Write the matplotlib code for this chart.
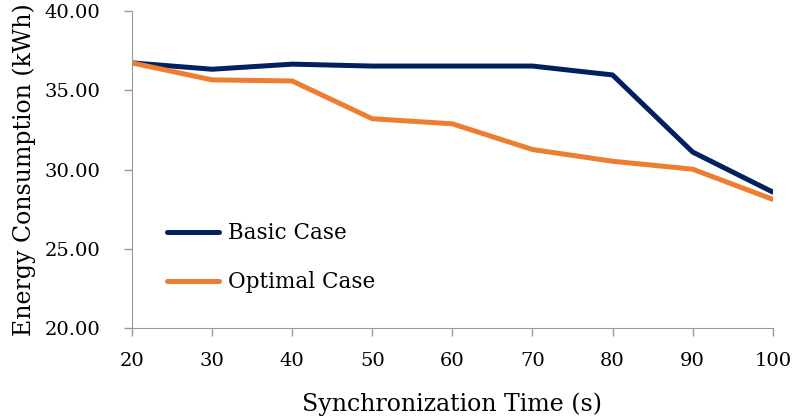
import matplotlib.pyplot as plt

# sync time vs energy data
sync_time = [20, 30, 40, 50, 60, 70, 80, 90, 100]
basic_case = [36.72, 36.32, 36.64, 36.52, 36.52, 36.52, 35.96, 31.10, 28.58]
optimal_case = [36.72, 35.65, 35.58, 33.20, 32.88, 31.26, 30.52, 30.02, 28.12]

plt.rcParams['font.family'] = ['DejaVu Serif']
plt.rcParams['font.size'] = 14

fig = plt.figure(figsize=(7.95, 4.17), dpi=100)
ax = fig.add_axes([0.166, 0.213, 0.806, 0.761])

ax.plot(sync_time, basic_case, color="#002060", lw=3.6, label="Basic Case", solid_capstyle="round")
ax.plot(sync_time, optimal_case, color="#ED7D31", lw=3.6, label="Optimal Case", solid_capstyle="round")

ax.set_xlim(20, 100)
ax.set_ylim(20, 40)
ax.set_xticks(sync_time)
ax.set_yticks([20, 25, 30, 35, 40])
ax.set_yticklabels(["%.2f" % v for v in [20, 25, 30, 35, 40]])

for s in ["top", "right"]:
    ax.spines[s].set_visible(False)
for s in ["left", "bottom"]:
    ax.spines[s].set_color("#999999")
ax.tick_params(colors="#999999", labelcolor="black", length=6, width=1)
ax.tick_params(axis="x", pad=11)
ax.tick_params(axis="y", pad=17)

ax.set_xlabel("Synchronization Time (s)", fontsize=17, labelpad=16)
ax.set_ylabel("Energy Consumption (kWh)", fontsize=17, labelpad=6)

ax.legend(loc="lower left", bbox_to_anchor=(0.025, 0.049), frameon=False,
          handlelength=2.4, handletextpad=0.4, labelspacing=1.26, fontsize=15.5)

fig.savefig("out.png", dpi=100)
